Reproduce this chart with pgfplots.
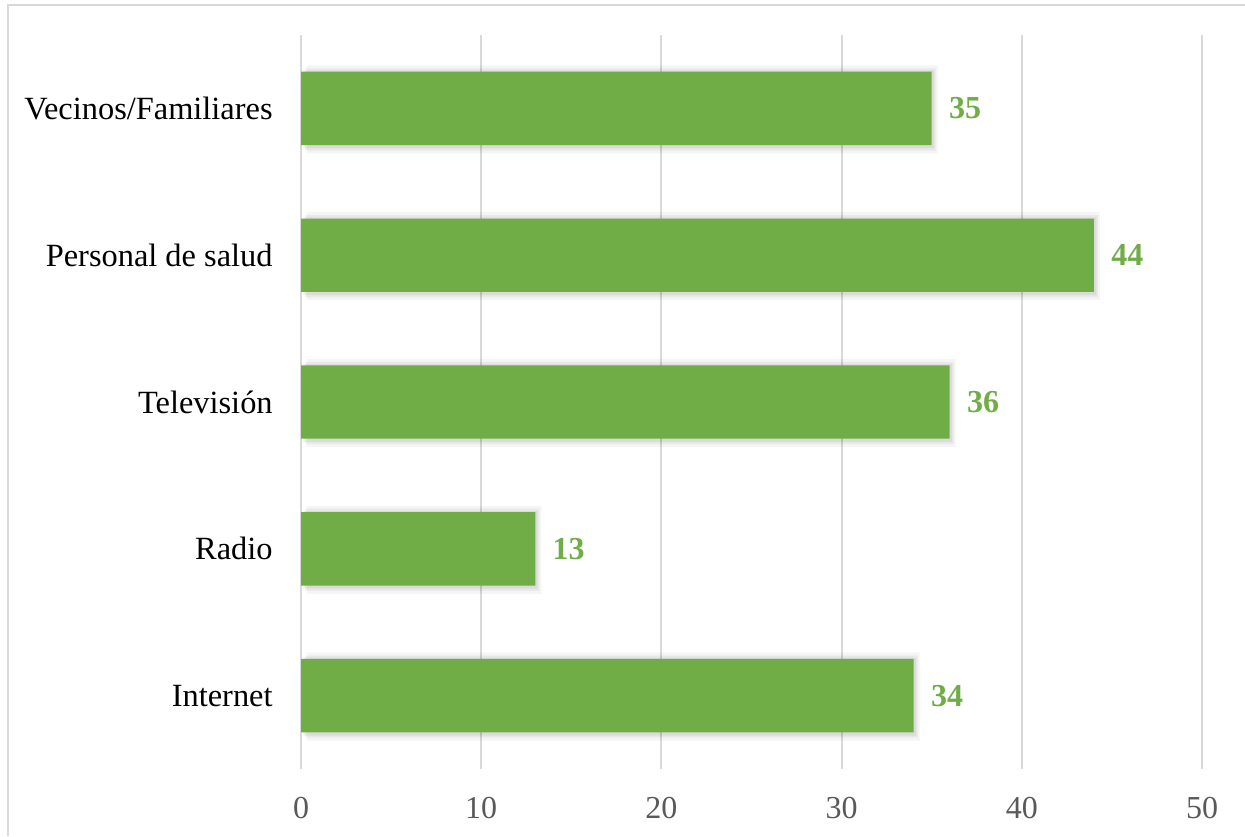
\documentclass[border=0pt]{standalone}
\usepackage{fontspec}
\setmainfont{Liberation Serif}
\usepackage{pgfplots}
\pgfplotsset{compat=1.18}
\definecolor{bargreen}{HTML}{70AD47}
\definecolor{gridgray}{HTML}{D9D9D9}
\definecolor{tickgray}{HTML}{595959}
\definecolor{framegray}{HTML}{D9D9D9}
\begin{document}
\begin{tikzpicture}[x=0.5pt,y=0.5pt]
\path[use as bounding box] (0,0) rectangle (1245,836);
\draw[color=framegray, line width=1pt] (8,0) -- (8,831) -- (1245,831);
\begin{axis}[
  at={(150.5pt,33.5pt)}, anchor=south west,
  scale only axis, width=450.5pt, height=367pt,
  xbar, xmin=0, xmax=50, ymin=-0.5, ymax=4.5,
  bar width=0.5,
  xtick={0,10,20,30,40,50},
  ytick={0,1,2,3,4},
  yticklabels={Internet,Radio,Televisión,Personal de salud,Vecinos/Familiares},
  xmajorgrids, ymajorgrids=false,
  major grid style={gridgray, line width=1pt},
  axis line style={draw=none},
  major tick length=0pt,
  /pgf/number format/assume math mode=true,
  xticklabel style={font=\fontsize{16}{19}\selectfont, text=tickgray, inner sep=0pt, yshift=-14pt},
  yticklabel style={font=\fontsize{16.2}{19}\selectfont, text=black, inner sep=0pt, xshift=-14pt},
]
\addplot[fill=black, opacity=0.04, draw=none, bar width=0.6, xshift=3pt, yshift=-0.5pt, forget plot]
  coordinates {(34,0) (13,1) (36,2) (44,3) (35,4)};
\addplot[fill=black, opacity=0.05, draw=none, bar width=0.56, xshift=2pt, yshift=-0.5pt, forget plot]
  coordinates {(34,0) (13,1) (36,2) (44,3) (35,4)};
\addplot[fill=black, opacity=0.06, draw=none, bar width=0.53, xshift=1.2pt, yshift=-0.5pt, forget plot]
  coordinates {(34,0) (13,1) (36,2) (44,3) (35,4)};
\addplot[fill=bargreen, draw=none,
  nodes near coords,
  nodes near coords style={font=\fontsize{16}{19}\selectfont\bfseries, text=bargreen, anchor=west, inner sep=0pt, xshift=8.5pt}]
  coordinates {(34,0) (13,1) (36,2) (44,3) (35,4)};
\end{axis}
\end{tikzpicture}
\end{document}
